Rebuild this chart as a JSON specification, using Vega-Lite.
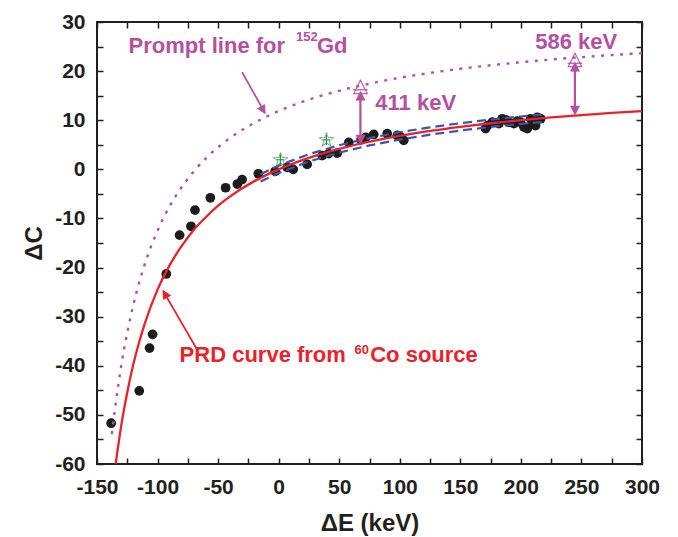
{
  "$schema": "https://vega.github.io/schema/vega-lite/v6.json",
  "width": 545,
  "height": 442,
  "autosize": "none",
  "padding": {"left": 97, "top": 22, "right": 36, "bottom": 73},
  "background": "white",
  "config": {"view": {"stroke": "#231F20", "strokeWidth": 2}, "font": "Liberation Sans", "axis": {"grid": false}},
  "datasets": {
    "pts": [
      {"E": -138.3, "C": -51.7}, {"E": -115.1, "C": -45.1}, {"E": -106.6, "C": -36.4}, {"E": -104.1, "C": -33.6},
      {"E": -92.8, "C": -21.3}, {"E": -81.8, "C": -13.4}, {"E": -72.4, "C": -11.6}, {"E": -69.1, "C": -8.3},
      {"E": -56.4, "C": -5.8}, {"E": -43.8, "C": -3.75}, {"E": -34.1, "C": -3.0}, {"E": -30.2, "C": -2.1},
      {"E": -16.8, "C": -0.9}, {"E": -2.9, "C": -0.4}, {"E": 7.0, "C": 0.4}, {"E": 12.0, "C": 0.0},
      {"E": 23.5, "C": 1.0}, {"E": 35.9, "C": 2.8}, {"E": 41.3, "C": 3.2}, {"E": 48.3, "C": 3.3},
      {"E": 57.9, "C": 5.5}, {"E": 68.0, "C": 6.0}, {"E": 72.0, "C": 6.5}, {"E": 78.5, "C": 7.1},
      {"E": 89.6, "C": 7.25}, {"E": 97.9, "C": 6.9}, {"E": 100.5, "C": 6.6}, {"E": 103.3, "C": 5.9},
      {"E": 170.8, "C": 8.3}, {"E": 172.5, "C": 8.9}, {"E": 176.4, "C": 9.6}, {"E": 181.8, "C": 9.3},
      {"E": 184.6, "C": 10.3}, {"E": 188.0, "C": 10.0}, {"E": 190.0, "C": 9.6}, {"E": 194.2, "C": 9.3},
      {"E": 197.0, "C": 9.8}, {"E": 199.7, "C": 9.6}, {"E": 202.5, "C": 8.6}, {"E": 205.3, "C": 8.3},
      {"E": 208.0, "C": 10.3}, {"E": 210.0, "C": 9.5}, {"E": 212.1, "C": 8.9}, {"E": 213.5, "C": 10.6},
      {"E": 216.3, "C": 10.3}
    ],
    "red": [
      {"E": -134.6, "C": -60}, {"E": -130, "C": -52.2}, {"E": -125, "C": -45.4}, {"E": -120, "C": -39.7},
      {"E": -115, "C": -35.0}, {"E": -110, "C": -31.0}, {"E": -100, "C": -24.5}, {"E": -90, "C": -19.5},
      {"E": -80, "C": -15.6}, {"E": -70, "C": -12.3}, {"E": -60, "C": -9.7}, {"E": -50, "C": -7.4},
      {"E": -40, "C": -5.5}, {"E": -30, "C": -3.85}, {"E": -20, "C": -2.4}, {"E": -10, "C": -1.13},
      {"E": 0, "C": 0}, {"E": 15, "C": 1.48}, {"E": 30, "C": 2.74}, {"E": 50, "C": 4.16},
      {"E": 75, "C": 5.62}, {"E": 100, "C": 6.81}, {"E": 125, "C": 7.81}, {"E": 150, "C": 8.65},
      {"E": 175, "C": 9.38}, {"E": 200, "C": 10.01}, {"E": 225, "C": 10.56}, {"E": 250, "C": 11.04},
      {"E": 275, "C": 11.48}, {"E": 300, "C": 11.86}
    ],
    "prompt": [
      {"E": -137.7, "C": -53.9}, {"E": -135, "C": -48.5}, {"E": -130, "C": -40.0}, {"E": -125, "C": -33.2},
      {"E": -120, "C": -27.6}, {"E": -115, "C": -22.9}, {"E": -110, "C": -18.9}, {"E": -100, "C": -12.5},
      {"E": -90, "C": -7.5}, {"E": -80, "C": -3.6}, {"E": -70, "C": -0.4}, {"E": -60, "C": 2.26},
      {"E": -50, "C": 4.5}, {"E": -40, "C": 6.4}, {"E": -25, "C": 8.79}, {"E": -10, "C": 10.75},
      {"E": 0, "C": 11.87}, {"E": 20, "C": 13.78}, {"E": 40, "C": 15.33}, {"E": 60, "C": 16.62},
      {"E": 80, "C": 17.71}, {"E": 100, "C": 18.64}, {"E": 125, "C": 19.63}, {"E": 150, "C": 20.47},
      {"E": 175, "C": 21.19}, {"E": 200, "C": 21.81}, {"E": 225, "C": 22.36}, {"E": 250, "C": 22.84},
      {"E": 275, "C": 23.27}, {"E": 300, "C": 23.65}
    ],
    "bandU": [
      {"E": -15, "C": -0.99}, {"E": 0, "C": 0.75}, {"E": 25, "C": 3.09}, {"E": 50, "C": 4.91}, {"E": 75, "C": 6.37},
      {"E": 100, "C": 7.56}, {"E": 125, "C": 8.56}, {"E": 150, "C": 9.4}, {"E": 175, "C": 10.13}, {"E": 200, "C": 10.76}, {"E": 218, "C": 11.16}
    ],
    "bandL": [
      {"E": -15, "C": -2.49}, {"E": 0, "C": -0.75}, {"E": 25, "C": 1.59}, {"E": 50, "C": 3.41}, {"E": 75, "C": 4.87},
      {"E": 100, "C": 6.06}, {"E": 125, "C": 7.06}, {"E": 150, "C": 7.9}, {"E": 175, "C": 8.63}, {"E": 200, "C": 9.26}, {"E": 218, "C": 9.66}
    ],
    "stars": [
      {"t": "☆", "E": 1.4, "C": 1.95, "Elo": -1.6, "Ehi": 4.4, "Clo": 0.9, "Chi": 3.0},
      {"t": "☆", "E": 39.4, "C": 6.0, "Elo": 36.4, "Ehi": 42.4, "Clo": 4.95, "Chi": 7.05}
    ],
    "tris": [
      {"t": "△", "E": 67.5, "C": 17.2, "Elo": 61.5, "Ehi": 73.5, "Cbar": 16.2},
      {"t": "△", "E": 244.6, "C": 22.6, "Elo": 238.6, "Ehi": 250.6, "Cbar": 21.6}
    ],
    "vrules": [{"E": 67.5, "C": 15.3, "C2": 6.4}, {"E": 244.6, "C": 21.3, "C2": 12.4}],
    "upheads": [{"t": "▲", "E": 67.5, "C": 15.4}, {"t": "▲", "E": 244.6, "C": 21.3}],
    "downheads": [{"t": "▼", "E": 67.5, "C": 6.3}, {"t": "▼", "E": 244.6, "C": 12.3}],
    "promptArrow": [{"E": -30.2, "C": 19.8, "E2": -11.4, "C2": 11.5}],
    "promptHead": [{"t": "▲", "E": -12.4, "C": 11.9}],
    "prdArrow": [{"E": -66.9, "C": -36.9, "E2": -95.3, "C2": -24.8}],
    "prdHead": [{"t": "▲", "E": -94.3, "C": -25.2}],
    "magText": [
      {"t": "Prompt line for", "E": -123.9, "C": 23.7},
      {"t": "Gd", "E": 31.6, "C": 23.7},
      {"t": "411 keV", "E": 79.8, "C": 12.0},
      {"t": "586 keV", "E": 211.9, "C": 24.6}
    ],
    "magSup": [{"t": "152", "E": 14.3, "C": 26.2}],
    "redText": [
      {"t": "PRD curve from", "E": -81.8, "C": -39.3},
      {"t": "Co source", "E": 75.6, "C": -39.3}
    ],
    "redSup": [{"t": "60", "E": 62.7, "C": -37.5}]
  },
  "encoding": {
    "x": {"field": "E", "type": "quantitative", "scale": {"domain": [-150, 300], "nice": false, "zero": false}, "axis": null},
    "y": {"field": "C", "type": "quantitative", "scale": {"domain": [-60, 30], "nice": false, "zero": false}, "axis": null}
  },
  "resolve": {"axis": {"x": "independent", "y": "independent"}},
  "layer": [
    {
      "data": {"name": "pts"},
      "mark": {"type": "circle", "color": "#1c1c1c", "opacity": 1, "size": 95},
      "encoding": {
        "x": {
          "field": "E", "type": "quantitative",
          "scale": {"domain": [-150, 300], "nice": false, "zero": false},
          "axis": {
            "orient": "bottom",
            "values": [-150, -125, -100, -75, -50, -25, 0, 25, 50, 75, 100, 125, 150, 175, 200, 225, 250, 275, 300],
            "labelExpr": "datum.value % 50 === 0 ? '' + datum.value : ''",
            "labelFont": "Liberation Sans", "labelFontSize": 21, "labelFontWeight": "bold", "labelColor": "#231F20",
            "labelPadding": 18, "labelFlush": false, "labelOverlap": false,
            "tickColor": "#231F20", "tickWidth": 1.5, "tickSize": -6,
            "domain": false,
            "title": "ΔE (keV)", "titleFont": "Liberation Sans", "titleFontSize": 24, "titleFontWeight": "bold",
            "titleColor": "#231F20", "titlePadding": 14
          }
        },
        "y": {
          "field": "C", "type": "quantitative",
          "scale": {"domain": [-60, 30], "nice": false, "zero": false},
          "axis": {
            "orient": "left",
            "values": [-60, -55, -50, -45, -40, -35, -30, -25, -20, -15, -10, -5, 0, 5, 10, 15, 20, 25, 30],
            "labelExpr": "datum.value % 10 === 0 ? '' + datum.value : ''",
            "labelFont": "Liberation Sans", "labelFontSize": 21, "labelFontWeight": "bold", "labelColor": "#231F20",
            "labelPadding": 18, "labelFlush": false, "labelOverlap": false,
            "tickColor": "#231F20", "tickWidth": 1.5, "tickSize": -6,
            "domain": false,
            "title": "ΔC", "titleFont": "Liberation Sans", "titleFontSize": 24, "titleFontWeight": "bold",
            "titleColor": "#231F20", "titlePadding": 8
          }
        }
      }
    },
    {
      "data": {"name": "bandU"},
      "mark": {"type": "line", "color": "#3A56AA", "strokeWidth": 2.2, "strokeDash": [9, 5]}
    },
    {
      "data": {"name": "bandL"},
      "mark": {"type": "line", "color": "#3A56AA", "strokeWidth": 2.2, "strokeDash": [9, 5]}
    },
    {
      "data": {"name": "red"},
      "mark": {"type": "line", "color": "#E8222B", "strokeWidth": 2.3, "interpolate": "monotone"},
      "encoding": {
        "x": {
          "field": "E", "type": "quantitative",
          "scale": {"domain": [-150, 300], "nice": false, "zero": false},
          "axis": {
            "orient": "top",
            "values": [-150, -125, -100, -75, -50, -25, 0, 25, 50, 75, 100, 125, 150, 175, 200, 225, 250, 275, 300],
            "labels": false, "title": null, "domain": false,
            "tickColor": "#231F20", "tickWidth": 1.5, "tickSize": -6
          }
        },
        "y": {
          "field": "C", "type": "quantitative",
          "scale": {"domain": [-60, 30], "nice": false, "zero": false},
          "axis": {
            "orient": "right",
            "values": [-60, -55, -50, -45, -40, -35, -30, -25, -20, -15, -10, -5, 0, 5, 10, 15, 20, 25, 30],
            "labels": false, "title": null, "domain": false,
            "tickColor": "#231F20", "tickWidth": 1.5, "tickSize": -6
          }
        }
      }
    },
    {
      "data": {"name": "prompt"},
      "mark": {"type": "line", "color": "#B4509F", "strokeWidth": 2.4, "strokeDash": [3, 6.5], "interpolate": "monotone"}
    },
    {
      "data": {"name": "stars"},
      "mark": {"type": "rule", "color": "#1E8A3E", "strokeWidth": 1.1},
      "encoding": {"x": {"field": "Elo", "type": "quantitative", "scale": {"domain": [-150, 300], "nice": false, "zero": false}, "axis": null}, "x2": {"field": "Ehi"}}
    },
    {
      "data": {"name": "stars"},
      "mark": {"type": "rule", "color": "#1E8A3E", "strokeWidth": 1.1},
      "encoding": {"y": {"field": "Clo", "type": "quantitative", "scale": {"domain": [-60, 30], "nice": false, "zero": false}, "axis": null}, "y2": {"field": "Chi"}}
    },
    {
      "data": {"name": "stars"},
      "mark": {"type": "text", "align": "center", "baseline": "middle", "font": "DejaVu Sans", "fontSize": 21, "color": "#1E8A3E", "dy": 1},
      "encoding": {"text": {"field": "t"}}
    },
    {
      "data": {"name": "vrules"},
      "mark": {"type": "rule", "color": "#B4509F", "strokeWidth": 2.2},
      "encoding": {"y2": {"field": "C2"}}
    },
    {
      "data": {"name": "upheads"},
      "mark": {"type": "text", "align": "center", "baseline": "middle", "font": "DejaVu Sans", "fontSize": 13, "color": "#B4509F", "dy": 1},
      "encoding": {"text": {"field": "t"}}
    },
    {
      "data": {"name": "downheads"},
      "mark": {"type": "text", "align": "center", "baseline": "middle", "font": "DejaVu Sans", "fontSize": 13, "color": "#B4509F", "dy": 1},
      "encoding": {"text": {"field": "t"}}
    },
    {
      "data": {"name": "tris"},
      "mark": {"type": "rule", "color": "#B4509F", "strokeWidth": 1.2},
      "encoding": {
        "x": {"field": "Elo", "type": "quantitative", "scale": {"domain": [-150, 300], "nice": false, "zero": false}, "axis": null},
        "x2": {"field": "Ehi"},
        "y": {"field": "Cbar", "type": "quantitative", "scale": {"domain": [-60, 30], "nice": false, "zero": false}, "axis": null}
      }
    },
    {
      "data": {"name": "tris"},
      "mark": {"type": "text", "align": "center", "baseline": "middle", "font": "DejaVu Sans", "fontSize": 20, "color": "#B4509F", "dy": 1},
      "encoding": {"text": {"field": "t"}}
    },
    {
      "data": {"name": "promptArrow"},
      "mark": {"type": "rule", "color": "#B4509F", "strokeWidth": 1.8},
      "encoding": {"x2": {"field": "E2"}, "y2": {"field": "C2"}}
    },
    {
      "data": {"name": "promptHead"},
      "mark": {"type": "text", "align": "center", "baseline": "middle", "font": "DejaVu Sans", "fontSize": 12, "color": "#B4509F", "angle": 151},
      "encoding": {"text": {"field": "t"}}
    },
    {
      "data": {"name": "prdArrow"},
      "mark": {"type": "rule", "color": "#E8222B", "strokeWidth": 1.8},
      "encoding": {"x2": {"field": "E2"}, "y2": {"field": "C2"}}
    },
    {
      "data": {"name": "prdHead"},
      "mark": {"type": "text", "align": "center", "baseline": "middle", "font": "DejaVu Sans", "fontSize": 12, "color": "#E8222B", "angle": 330},
      "encoding": {"text": {"field": "t"}}
    },
    {
      "data": {"name": "magText"},
      "mark": {"type": "text", "align": "left", "baseline": "alphabetic", "font": "Liberation Sans", "fontSize": 22, "fontWeight": "bold", "color": "#B4509F"},
      "encoding": {"text": {"field": "t"}}
    },
    {
      "data": {"name": "magSup"},
      "mark": {"type": "text", "align": "left", "baseline": "alphabetic", "font": "Liberation Sans", "fontSize": 13, "fontWeight": "bold", "color": "#B4509F"},
      "encoding": {"text": {"field": "t"}}
    },
    {
      "data": {"name": "redText"},
      "mark": {"type": "text", "align": "left", "baseline": "alphabetic", "font": "Liberation Sans", "fontSize": 22, "fontWeight": "bold", "color": "#E8222B"},
      "encoding": {"text": {"field": "t"}}
    },
    {
      "data": {"name": "redSup"},
      "mark": {"type": "text", "align": "left", "baseline": "alphabetic", "font": "Liberation Sans", "fontSize": 13, "fontWeight": "bold", "color": "#E8222B"},
      "encoding": {"text": {"field": "t"}}
    }
  ]
}
